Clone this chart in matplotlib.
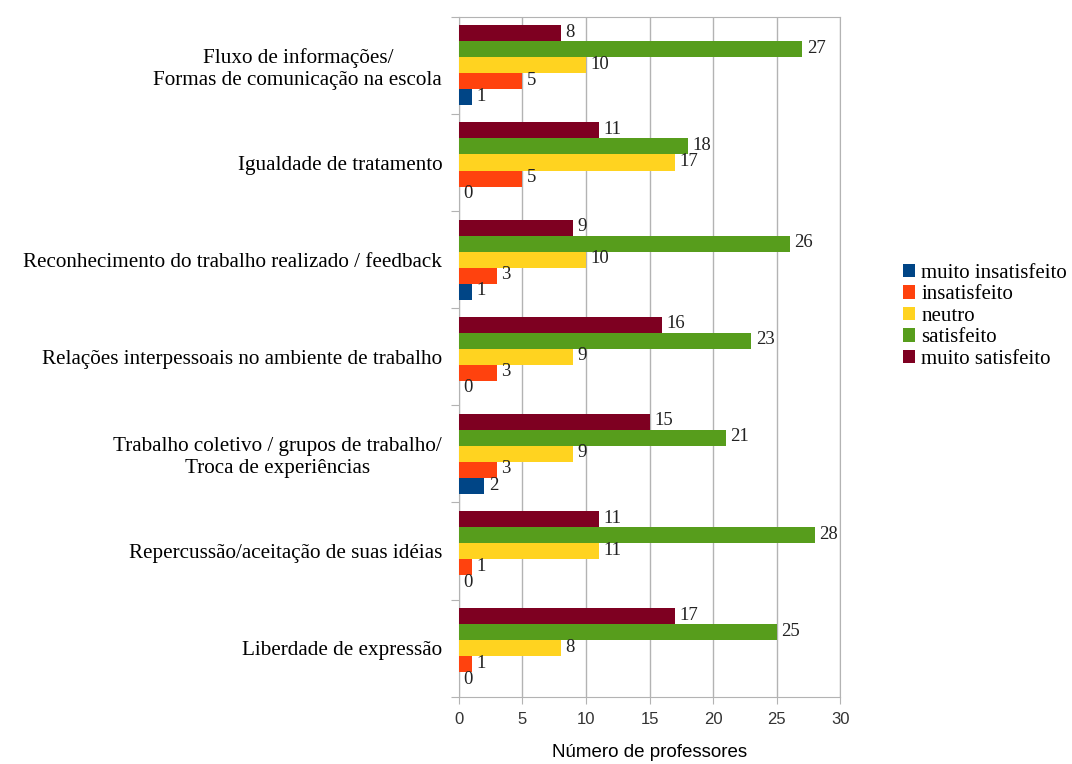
import numpy as np
import matplotlib
matplotlib.use("Agg")
import matplotlib.pyplot as plt

# Categories, top to bottom
categories = [
    "Fluxo de informações/\nFormas de comunicação na escola",
    "Igualdade de tratamento",
    "Reconhecimento do trabalho realizado / feedback",
    "Relações interpessoais no ambiente de trabalho",
    "Trabalho coletivo / grupos de trabalho/\nTroca de experiências",
    "Repercussão/aceitação de suas idéias",
    "Liberdade de expressão",
]

series_names = ["muito insatisfeito", "insatisfeito", "neutro", "satisfeito", "muito satisfeito"]
muito_insatisfeito = [1, 0, 1, 0, 2, 0, 0]
insatisfeito = [5, 5, 3, 3, 3, 1, 1]
neutro = [10, 17, 10, 9, 9, 11, 8]
satisfeito = [27, 18, 26, 23, 21, 28, 25]
muito_satisfeito = [8, 11, 9, 16, 15, 11, 17]
colors = ["#004586", "#ff420e", "#ffd320", "#579d1c", "#7e0021"]

series = [muito_insatisfeito, insatisfeito, neutro, satisfeito, muito_satisfeito]

fig = plt.figure(figsize=(10.72, 7.64), dpi=100)
ax = fig.add_axes([0.428, 0.088, 0.356, 0.890])

n = len(categories)
centers = np.arange(n)[::-1] + 0.5   # first category on top
bar_h = 0.165
offsets = (np.arange(5) - 2) * bar_h  # muito insatisfeito at the bottom of each group

for i, (name, vals, col) in enumerate(zip(series_names, series, colors)):
    y = centers + offsets[i]
    ax.barh(y, vals, height=bar_h, color=col, label=name, zorder=3)
    for yy, v in zip(y, vals):
        ax.text(v + 0.35, yy + 0.01, str(v), va="center", ha="left",
                fontsize=13.5, family="Liberation Serif", color="#222222", zorder=4)

ax.set_xlim(0, 30)
ax.set_ylim(0, n)
ax.set_xticks(range(0, 31, 5))
ax.tick_params(axis="x", labelsize=12, colors="#333333", length=5, color="#b3b3b3", pad=6)
for t in ax.get_xticklabels():
    t.set_family("Liberation Sans")

# group separators as major ticks, labels on minor ticks at centers
ax.set_yticks(np.arange(n + 1))
ax.set_yticklabels([])
ax.tick_params(axis="y", which="major", length=6, color="#b3b3b3")
ax.set_yticks(centers, minor=True)
ax.set_yticklabels(categories, minor=True, family="Liberation Serif", fontsize=15.2,
                   multialignment="center")
ax.tick_params(axis="y", which="minor", length=0, pad=12)

ax.grid(axis="x", color="#b3b3b3", linewidth=1, zorder=0)
for s in ax.spines.values():
    s.set_color("#b3b3b3")

ax.set_xlabel("Número de professores", fontsize=13.5, family="Liberation Sans", labelpad=12)

handles, labels = ax.get_legend_handles_labels()
leg = fig.legend(handles, labels, loc="center left", bbox_to_anchor=(0.842, 0.586),
                 frameon=False, prop={"family": "Liberation Serif", "size": 15},
                 handlelength=0.6, handleheight=0.6, handletextpad=0.3, labelspacing=0.12,
                 borderpad=0, borderaxespad=0)

fig.savefig("out.png", dpi=100)
